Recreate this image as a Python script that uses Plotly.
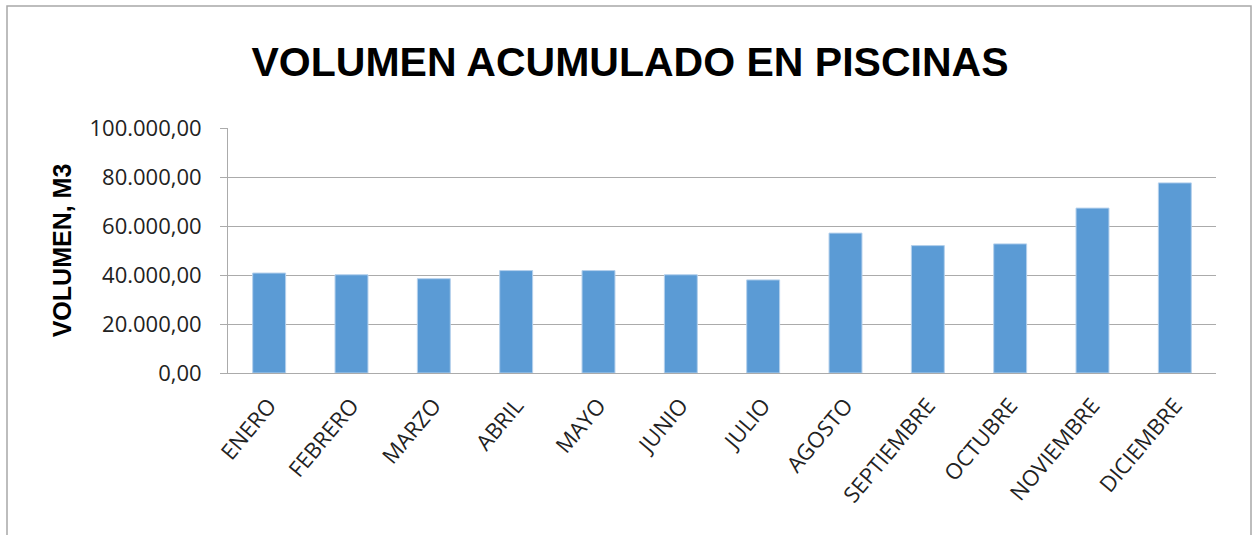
import plotly.graph_objects as go

meses = ["ENERO", "FEBRERO", "MARZO", "ABRIL", "MAYO", "JUNIO", "JULIO",
         "AGOSTO", "SEPTIEMBRE", "OCTUBRE", "NOVIEMBRE", "DICIEMBRE"]
volumen = [40800, 40100, 38500, 41800, 41800, 40100, 38000,
           57100, 52000, 52700, 67300, 77600]
tick_vals = [0, 20000, 40000, 60000, 80000, 100000]
tick_text = ["0,00", "20.000,00", "40.000,00", "60.000,00", "80.000,00", "100.000,00"]

W, H = 1258, 535
ML, MR, MT, MB = 228, 42, 128, 162
pw, ph = W - ML - MR, H - MT - MB

fig = go.Figure(go.Bar(
    x=meses, y=volumen,
    marker=dict(color="#5B9BD5", line=dict(color="#B4D0EC", width=1)),
))

fig.update_layout(
    width=W, height=H,
    margin=dict(l=ML, r=MR, t=MT, b=MB),
    paper_bgcolor="white", plot_bgcolor="white",
    bargap=0.6,
    showlegend=False,
    title=dict(text="<b>VOLUMEN ACUMULADO EN PISCINAS</b>",
               font=dict(family="Liberation Sans, Arial", size=41, color="black"),
               x=630 / W, xanchor="center", y=1 - 62 / H, yanchor="middle"),
    font=dict(family="Open Sans, Liberation Sans, Arial", color="#222"),
)

fig.update_yaxes(
    range=[0, 100000], tickvals=tick_vals, ticktext=tick_text,
    tickfont=dict(size=22, color="#222"),
    showgrid=True, gridcolor="#ABABAB", gridwidth=1,
    showline=True, linecolor="#ABABAB", linewidth=1,
    ticks="outside", ticklen=7, tickcolor="#ABABAB",
    ticklabelstandoff=14,
    title=dict(text="<b>VOLUMEN, M3</b>",
               font=dict(family="Liberation Sans, Arial", size=25, color="black"),
               standoff=10),
    zeroline=False,
)
fig.update_xaxes(
    tickangle=-50, tickfont=dict(size=22, color="#222"),
    ticklabelstandoff=10,
    showline=True, linecolor="#ABABAB", linewidth=1,
    ticks="", showgrid=False,
)

# outer chart border
fig.add_shape(type="rect", xref="paper", yref="paper",
              x0=(7 - ML) / pw, x1=(1251 - ML) / pw,
              y0=-(545 - MT - ph) / ph, y1=1 + (MT - 6) / ph,
              line=dict(color="#A8A8A8", width=1.5), fillcolor="rgba(0,0,0,0)", layer="below")

fig.write_html("out.html", config={"displayModeBar": False},
               post_script="document.body.style.margin='0';")
